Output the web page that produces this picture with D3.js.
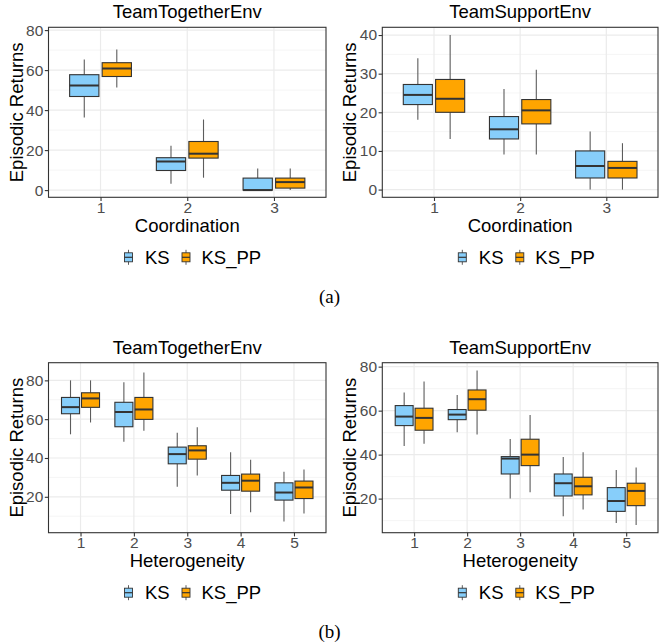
<!DOCTYPE html>
<html>
<head>
<meta charset="utf-8">
<script src="https://cdn.jsdelivr.net/npm/d3@7"></script>
<style>
  body { margin: 0; background: #fff; }
  text { font-family: "Liberation Sans", Arial, sans-serif; }
</style>
</head>
<body>
<svg id="chart" width="659" height="642"></svg>
<script>
// series names + fills
const groups = ["KS", "KS_PP"];
const groupColors = ["#87CEFA", "#FFA500"];

// categories
const coordCats = ["1", "2", "3"];
const hetCats = ["1", "2", "3", "4", "5"];

// each row: [lower whisker, q1, median, q3, upper whisker]
const togetherCoordKS   = [[36.3, 46.8, 52.3, 57.7, 65.3], [3.2, 9.8, 14.3, 16.2, 22.2], [0, 0, 0, 6, 10.8]];
const togetherCoordKSPP = [[51.3, 56.8, 60.8, 63.7, 70.3], [6.2, 16, 18.2, 24.3, 35.3], [0, 1, 4, 6, 10.8]];

const supportCoordKS   = [[18.1, 22, 24.5, 27.2, 34], [9.1, 13.1, 15.6, 18.9, 26], [0, 3, 6.1, 10, 15]];
const supportCoordKSPP = [[13.1, 20, 23.5, 28.5, 40], [9.1, 17, 20.5, 23.3, 31], [0, 3, 5.6, 7.3, 12]];

const togetherHetKS   = [[52.2, 62.8, 66.2, 71.2, 80], [48.4, 56.1, 63.7, 68.7, 79], [25.2, 37, 42, 45.6, 53],
                         [11.2, 23.4, 27.2, 31, 42.9], [7.3, 18.3, 22.2, 27.2, 32.9]];
const togetherHetKSPP = [[58.3, 66.1, 70.7, 73.6, 80], [54, 59.9, 65, 71.2, 84.1], [31, 39.4, 43.9, 46.3, 55.9],
                         [12.1, 22.9, 28.3, 31.7, 39.1], [11.4, 19.1, 24.8, 28.1, 34.1]];

const supportHetKS   = [[43.9, 53.2, 57.3, 62.3, 68.2], [50.2, 55.9, 58.2, 60.5, 67.1], [20, 31.2, 38.2, 39.1, 47.1],
                        [12, 21.2, 27, 31.2, 38.9], [8.9, 14.2, 18.9, 25, 33]];
const supportHetKSPP = [[45, 51.1, 56.7, 61.1, 73.2], [49.1, 60.2, 65.2, 69.4, 78.2], [22.9, 35, 40, 47, 58],
                        [15, 21.7, 25.6, 29.7, 41.1], [8, 16.8, 23.5, 27, 34.1]];

// y ticks
const ticks0to80 = [0, 20, 40, 60, 80];
const ticks0to40 = [0, 10, 20, 30, 40];
const ticks20to80 = [20, 40, 60, 80];

const svg = d3.select("#chart");
svg.append("rect").attr("width", 659).attr("height", 642).attr("fill", "#fff");

const panels = [
    {title: "TeamTogetherEnv", xTitle: "Coordination", cats: coordCats, series: [togetherCoordKS, togetherCoordKSPP],
     ticks: ticks0to80, domain: [-3.6, 81.4], box: [48.5, 27.3, 326, 197.3]},
    {title: "TeamSupportEnv", xTitle: "Coordination", cats: coordCats, series: [supportCoordKS, supportCoordKSPP],
     ticks: ticks0to40, domain: [-2, 42], box: [382.3, 27.3, 658, 197.3]},
    {title: "TeamTogetherEnv", xTitle: "Heterogeneity", cats: hetCats, series: [togetherHetKS, togetherHetKSPP],
     ticks: ticks20to80, domain: [1.5, 89.1], box: [48.5, 362.7, 326, 532.7]},
    {title: "TeamSupportEnv", xTitle: "Heterogeneity", cats: hetCats, series: [supportHetKS, supportHetKSPP],
     ticks: ticks20to80, domain: [4.5, 81.8], box: [382.3, 362.7, 658, 532.7]}
];

panels.forEach(drawPanel);

// sub captions
svg.append("text").attr("x", 329.5).attr("y", 303).attr("text-anchor", "middle")
    .style("font-family", "'Liberation Serif', 'Times New Roman', serif").style("font-size", "19px").text("(a)");
svg.append("text").attr("x", 329.5).attr("y", 638).attr("text-anchor", "middle")
    .style("font-family", "'Liberation Serif', 'Times New Roman', serif").style("font-size", "19px").text("(b)");

function drawPanel(p) {
    const [left, top, right, bottom] = p.box;

    const x = d3.scalePoint().domain(p.cats).range([left, right]).padding(0.6);
    const y = d3.scaleLinear().domain(p.domain).range([bottom, top]);
    const step = x.step();

    const g = svg.append("g");

    // grid: minor first, then major
    const minor = p.ticks.slice(0, -1).map((t, i) => (t + p.ticks[i + 1]) / 2);
    const stepT = p.ticks[1] - p.ticks[0];
    minor.unshift(p.ticks[0] - stepT / 2);
    minor.push(p.ticks[p.ticks.length - 1] + stepT / 2);
    g.selectAll(".minor").data(minor.filter(v => v > p.domain[0] && v < p.domain[1])).enter()
        .append("line")
        .attr("x1", left).attr("x2", right)
        .attr("y1", d => y(d)).attr("y2", d => y(d))
        .attr("stroke", "#F2F2F2").attr("stroke-width", 0.8);
    g.selectAll(".major").data(p.ticks).enter()
        .append("line")
        .attr("x1", left).attr("x2", right)
        .attr("y1", d => y(d)).attr("y2", d => y(d))
        .attr("stroke", "#EBEBEB").attr("stroke-width", 1.2);
    g.selectAll(".vmajor").data(p.cats).enter()
        .append("line")
        .attr("x1", d => x(d)).attr("x2", d => x(d))
        .attr("y1", top).attr("y2", bottom)
        .attr("stroke", "#EBEBEB").attr("stroke-width", 1.2);

    // boxes
    const boxW = step * 0.3375;
    const offset = step * 0.1875;
    p.series.forEach((rows, gi) => {
        const sg = g.append("g");
        rows.forEach((r, ci) => {
            const cx = x(p.cats[ci]) + (gi === 0 ? -offset : offset);
            const [lo, q1, med, q3, hi] = r;
            sg.append("line").attr("x1", cx).attr("x2", cx).attr("y1", y(hi)).attr("y2", y(q3))
                .attr("stroke", "#5c5c5c").attr("stroke-width", 1.1);
            sg.append("line").attr("x1", cx).attr("x2", cx).attr("y1", y(q1)).attr("y2", y(lo))
                .attr("stroke", "#5c5c5c").attr("stroke-width", 1.1);
            sg.append("rect")
                .attr("x", cx - boxW / 2).attr("width", boxW)
                .attr("y", y(q3)).attr("height", Math.max(0, y(q1) - y(q3)))
                .attr("fill", groupColors[gi])
                .attr("stroke", "#333").attr("stroke-width", 1.1);
            sg.append("line").attr("x1", cx - boxW / 2).attr("x2", cx + boxW / 2)
                .attr("y1", y(med)).attr("y2", y(med))
                .attr("stroke", "#333").attr("stroke-width", 2);
        });
    });

    // panel border
    g.append("rect").attr("x", left).attr("y", top)
        .attr("width", right - left).attr("height", bottom - top)
        .attr("fill", "none").attr("stroke", "#333").attr("stroke-width", 1.1);

    // axes
    const yAxis = g.append("g").attr("transform", `translate(${left},0)`)
        .call(d3.axisLeft(y).tickValues(p.ticks).tickSize(3.7).tickPadding(1.5).tickSizeOuter(0));
    const xAxis = g.append("g").attr("transform", `translate(0,${bottom})`)
        .call(d3.axisBottom(x).tickSize(3.7).tickPadding(0.8).tickSizeOuter(0));
    [yAxis, xAxis].forEach(a => {
        a.select(".domain").remove();
        a.selectAll(".tick line").attr("stroke", "#333").attr("stroke-width", 1.1);
        a.selectAll(".tick text").attr("fill", "#4D4D4D")
            .style("font-size", "15.5px").style("font-family", "'Liberation Sans', Arial, sans-serif");
    });

    // titles
    const cx = (left + right) / 2;
    g.append("text").attr("x", cx).attr("y", top - 9).attr("text-anchor", "middle")
        .style("font-size", "18.5px").attr("fill", "#000").text(p.title);
    g.append("text").attr("x", cx).attr("y", bottom + 34.3).attr("text-anchor", "middle")
        .style("font-size", "18.5px").attr("fill", "#000").text(p.xTitle);
    g.append("text").attr("transform", `translate(${left - 26},${(top + bottom) / 2}) rotate(-90)`)
        .attr("text-anchor", "middle")
        .style("font-size", "18.5px").attr("fill", "#000").text("Episodic Returns");

    // legend
    const ly = bottom + 60;
    const legendPos = [[left + 80, left + 96.5], [left + 137.5, left + 153]];
    groups.forEach((name, gi) => {
        const [kx, tx] = legendPos[gi];
        const lg = g.append("g");
        lg.append("line").attr("x1", kx).attr("x2", kx).attr("y1", ly - 7.5).attr("y2", ly + 7.5)
            .attr("stroke", "#5c5c5c").attr("stroke-width", 1);
        lg.append("rect").attr("x", kx - 4).attr("y", ly - 4.5).attr("width", 8).attr("height", 9)
            .attr("fill", groupColors[gi]).attr("stroke", "#333").attr("stroke-width", 0.9);
        lg.append("line").attr("x1", kx - 4).attr("x2", kx + 4).attr("y1", ly).attr("y2", ly)
            .attr("stroke", "#333").attr("stroke-width", 1.2);
        lg.append("text").attr("x", tx).attr("y", ly).attr("dy", "0.36em")
            .style("font-size", "18.5px").attr("fill", "#000").text(name);
    });
}
</script>
</body>
</html>
